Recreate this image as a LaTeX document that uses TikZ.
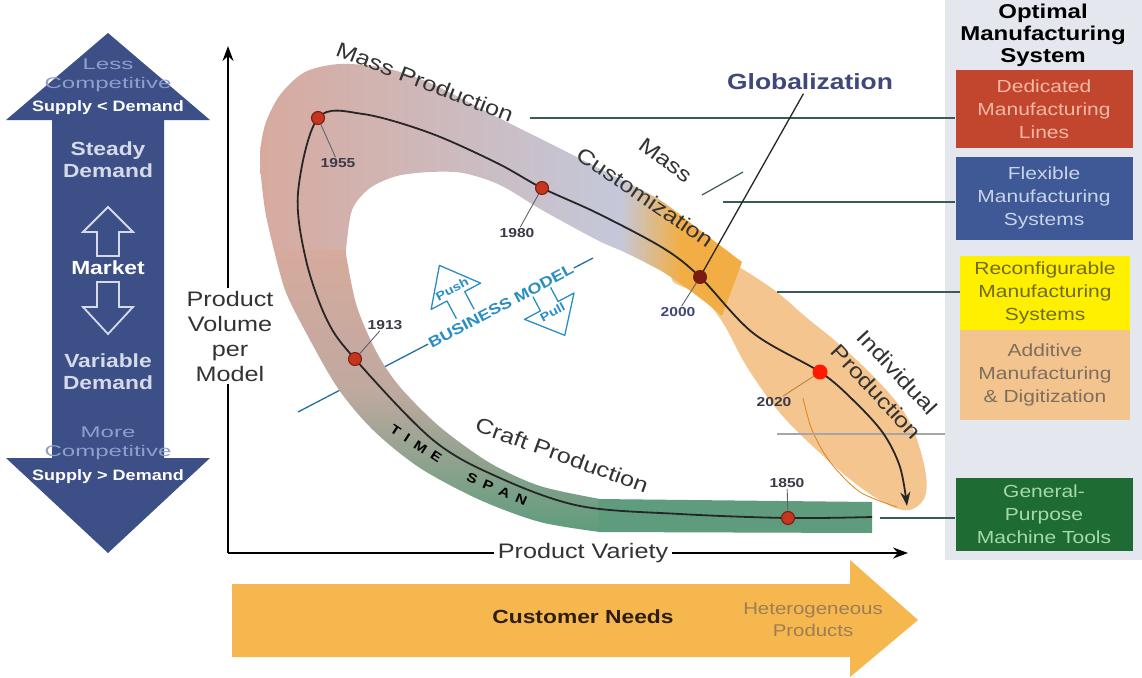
\documentclass[tikz,border=0pt]{standalone}
\usepackage{fontspec}
\setmainfont{Liberation Sans}[FakeStretch=1.2]
\newfontfamily\widefont{Liberation Sans}[FakeStretch=1.55]
\usetikzlibrary{arrows.meta}

\definecolor{arrowblue}{HTML}{3C4F87}
\definecolor{compblue}{HTML}{8E9FCB}
\definecolor{demtext}{HTML}{D6DAE8}
\definecolor{panelgray}{HTML}{E4E7EE}
\definecolor{dmlred}{HTML}{C2452D}
\definecolor{dmltext}{HTML}{F3B9A6}
\definecolor{fmsblue}{HTML}{3F5996}
\definecolor{fmstext}{HTML}{C9D3EA}
\definecolor{rmsyellow}{HTML}{FFF000}
\definecolor{rmstext}{HTML}{6E6B20}
\definecolor{amdorange}{HTML}{F4C48E}
\definecolor{amdtext}{HTML}{7D6E5E}
\definecolor{gpmgreen}{HTML}{1F6B34}
\definecolor{gpmtext}{HTML}{A6D9A9}
\definecolor{custorange}{HTML}{F6B84E}
\definecolor{custtext}{HTML}{2E1E12}
\definecolor{hettext}{HTML}{9C7E55}
\definecolor{bandpink}{HTML}{D7AA9E}
\definecolor{bandmid}{HTML}{BFA99F}
\definecolor{bandgray}{HTML}{C4C8DA}
\definecolor{bandorange}{HTML}{F2AE44}
\definecolor{leaforange}{HTML}{F4C58E}
\definecolor{bandgreen}{HTML}{5E9C7D}
\definecolor{dotred}{HTML}{C5361F}
\definecolor{dotdark}{HTML}{7A1C12}
\definecolor{yeartext}{HTML}{3A3A4A}
\definecolor{connc}{HTML}{3B5A56}
\definecolor{bmblue}{HTML}{2A8EC4}
\definecolor{globblue}{HTML}{3F4878}
\definecolor{lbltext}{HTML}{333333}

\newcommand{\lblfont}{\fontsize{21}{25}\selectfont}
\newcommand{\boxfont}{\fontsize{17.5}{23}\selectfont}
\newcommand{\yearfont}{\bfseries\fontsize{13}{15}\selectfont}

\tikzset{
  lbl/.style={font=\lblfont, text=lbltext, align=center, inner sep=1pt},
  mbox/.style={minimum width=177pt, inner sep=2pt, align=center, font=\boxfont},
  yeardot/.style={circle, fill=dotred, draw=dotdark, line width=1pt, minimum size=13pt, inner sep=0pt},
  yearlbl/.style={font=\yearfont, text=yeartext, inner sep=1pt},
  yeartick/.style={draw=yeartext!80, line width=0.9pt},
  conn/.style={draw=connc, line width=1.6pt},
  bmarrow/.style={draw=bmblue, line width=1.3pt, line join=round},
  bmlbl/.style={font=\bfseries\fontsize{12}{14}\selectfont, text=bmblue, inner sep=0pt},
  complbl/.style={font=\widefont\fontsize{15.5}{19}\selectfont, text=compblue, align=center, inner sep=0pt},
  supplbl/.style={font=\bfseries\fontsize{15}{17}\selectfont, text=white, inner sep=0pt},
  demlbl/.style={font=\bfseries\fontsize{19}{22}\selectfont, text=demtext, align=center},
  spanlbl/.style={font=\bfseries\fontsize{13}{15}\selectfont, text=black, inner sep=0pt}
}

\begin{document}
\begin{tikzpicture}[x=1pt,y=-1pt]
\useasboundingbox (0,0) rectangle (1142,677);
\fill[white] (0,0) rectangle (1142,677);

% right panel
\node[fill=panelgray, minimum width=197pt, minimum height=560pt, anchor=north west, inner sep=0pt] (panel) at (945,0) {};
\node[font=\bfseries\fontsize{20}{22}\selectfont, align=center] (title) at (1043,35) {Optimal\\Manufacturing\\System};
\node[mbox, fill=dmlred, text=dmltext, minimum height=78pt] (dml) at (1044,109) {Dedicated\\Manufacturing\\Lines};
\node[mbox, fill=fmsblue, text=fmstext, minimum height=83pt] (fms) at (1044,198) {Flexible\\Manufacturing\\Systems};
\node[mbox, fill=rmsyellow, text=rmstext, minimum width=170pt, minimum height=74pt] (rms) at (1045,293) {Reconfigurable\\Manufacturing\\Systems};
\node[mbox, fill=amdorange, text=amdtext, minimum width=170pt, minimum height=90pt] (amd) at (1045,375) {Additive\\Manufacturing\\\& Digitization};
\node[mbox, fill=gpmgreen, text=gpmtext, minimum height=73pt] (gpm) at (1044,514) {General-\\Purpose\\Machine Tools};

% market arrow
\fill[arrowblue] (108,33) -- (210,120) -- (164,120) -- (164,458) -- (210,458) -- (108,553)
  -- (6,458) -- (52,458) -- (52,120) -- (6,120) -- cycle;
\node[complbl] (less) at (108,75) {Less\\Competitive};
\node[supplbl] (supless) at (108,108) {Supply < Demand};
\node[demlbl] (steady) at (108,160) {Steady\\Demand};
\draw[demtext, line width=1.8pt] (97,256) -- (97,232) -- (83,232) -- (108,207) -- (133,232) -- (119,232) -- (119,256) -- cycle;
\node[font=\bfseries\fontsize{19}{22}\selectfont, text=white] (market) at (108,268) {Market};
\draw[demtext, line width=1.8pt] (97,282) -- (97,307) -- (83,307) -- (108,334) -- (133,307) -- (119,307) -- (119,282) -- cycle;
\node[demlbl] (variable) at (108,372) {Variable\\Demand};
\node[complbl] (more) at (108,443) {More\\Competitive};
\node[supplbl] (supmore) at (108,477) {Supply > Demand};

% customer needs arrow
\fill[custorange] (232,584) -- (850,584) -- (850,560) -- (918,620) -- (850,677) -- (850,657) -- (232,657) -- cycle;
\node[font=\bfseries\fontsize{19}{22}\selectfont, text=custtext] (needs) at (583,617) {Customer Needs};
\node[font=\fontsize{17}{22}\selectfont, text=hettext, align=center] (hetero) at (813,620) {Heterogeneous\\Products};

% axes
\coordinate (origin) at (228,553);
\coordinate (ytop) at (228,46);
\coordinate (xend) at (908,553);
\draw[line width=1.6pt, -{Stealth[length=15pt,width=11pt]}] (origin) -- (ytop);
\draw[line width=1.6pt, -{Stealth[length=15pt,width=11pt]}] (origin) -- (xend);
\node[lbl, fill=white, inner sep=3pt] (vol) at (230,336) {Product\\Volume\\per\\Model};
\node[lbl, fill=white, inner sep=4pt] (variety) at (583,553) {Product Variety};

% business model line
\coordinate (bm1) at (298,412);
\coordinate (bm2) at (593,258);
\draw[bmblue!80!black, line width=1.3pt] (bm1) -- (bm2);

% individual production leaf
\fill[leaforange] plot[smooth cycle, tension=0.6] coordinates {(682,256) (720,258) (770,287) (807,318) (840,345) (877,380) (907,417) (923,460) (926,493) (913,509) (893,507) (860,487) (820,453) (780,413) (747,367) (723,323) (700,295) (672,280)};
\draw[orange!55!brown, line width=0.8pt] plot[smooth] coordinates {(803,398) (812,430) (830,462) (860,492) (897,507)};

% mass production arm
\shade[left color=bandpink, right color=bandgray]
  plot[smooth] coordinates {(274,250) (265,210) (260,160) (265,125) (280,95) (305,72) (340,64) (385,68) (430,83) (497,117) (563,150) (620,179)}
  -- plot[smooth] coordinates {(620,250) (597,240) (542,210) (500,185) (463,173) (430,172) (397,176) (370,188) (352,210) (346,250)} -- cycle;
\shade[left color=bandgray, right color=bandorange, middle color=bandorange]
  plot[smooth] coordinates {(620,179) (660,200) (697,228) (742,262)}
  -- plot[smooth] coordinates {(722,316) (700,298) (663,272) (620,250)} -- cycle;
% craft production arc
\shade[top color=bandpink, bottom color=bandgreen, middle color=bandmid]
  plot[smooth] coordinates {(274,250) (285,290) (303,327) (337,387) (373,430) (420,468) (480,500) (540,522) (600,532)}
  -- plot[smooth] coordinates {(600,499) (540,486) (490,463) (440,427) (400,387) (377,353) (357,307) (347,260) (346,250)} -- cycle;
\fill[bandgreen] (598,499) -- (872,502) -- (872,533) -- (598,532) -- cycle;

% connectors to the systems
\coordinate (mp) at (530,118);
\draw[conn] (mp) -- (mp -| dml.west);
\coordinate (mc) at (723,202);
\draw[conn] (mc) -- (mc -| fms.west);
\coordinate (mca) at (702,195);
\coordinate (mcb) at (743,172);
\draw[conn, line width=1.2pt] (mca) -- (mcb);
\coordinate (rc) at (777,292);
\draw[conn] (rc) -- (rc -| rms.west);
\coordinate (ac) at (777,434);
\draw[conn, draw=gray!70] (ac) -- (ac -| panel.west);
\coordinate (gc) at (880,518);
\draw[conn] (gc) -- (gc -| gpm.west);

% time span
\coordinate (c1850) at (788,518);
\coordinate (c1913) at (355,359);
\coordinate (c1955) at (318,118);
\coordinate (c1980) at (542,188);
\coordinate (c2000) at (700,277);
\coordinate (c2020) at (820,372);
\draw[line width=1.8pt, draw=black!85, -{Stealth[length=14pt,width=10pt]}]
  plot[smooth, tension=0.55] coordinates {(872,517) (c1850) (680,514) (580,506) (500,478) (433,440) (c1913) (327,320) (306,260) (298,193) (c1955) (363,114) (430,133) (497,163) (c1980) (597,213) (663,248) (c2000) (753,333) (c2020) (853,400) (883,433) (900,467) (907,506)};

\node[yeardot] (y1850) at (c1850) {};
\node[yeardot] (y1913) at (c1913) {};
\node[yeardot] (y1955) at (c1955) {};
\node[yeardot] (y1980) at (c1980) {};
\node[yeardot, fill=dotdark] (y2000) at (c2000) {};
\node[circle, fill=red!80!orange, minimum size=15pt, inner sep=0pt] (y2020) at (c2020) {};

\node[yearlbl] (l1850) at (787,483) {1850};
\node[yearlbl] (l1913) at (385,325) {1913};
\node[yearlbl] (l1955) at (338,163) {1955};
\node[yearlbl] (l1980) at (517,233) {1980};
\node[yearlbl, text=globblue] (l2000) at (678,312) {2000};
\node[yearlbl] (l2020) at (774,402) {2020};
\draw[yeartick] (y1850) -- (l1850);
\draw[yeartick] (y1913) -- (l1913);
\draw[yeartick] (y1955) -- (l1955);
\draw[yeartick] (y1980) -- (l1980);
\draw[yeartick] (y2000) -- (l2000);
\draw[yeartick, draw=brown] (y2020) -- (l2020);

\node[spanlbl, rotate=-33] (time) at (416,444) {T\hspace{7pt}I\hspace{7pt}M\hspace{7pt}E};
\node[spanlbl, rotate=-23] (span) at (497,489) {S\hspace{7pt}P\hspace{7pt}A\hspace{7pt}N};

% globalization
\node[font=\bfseries\fontsize{22}{26}\selectfont, text=globblue] (glob) at (810,82) {Globalization};
\draw[line width=1.3pt, draw=black!85] (glob) -- (y2000);

% production paradigms
\node[lbl, rotate=-21] (massprod) at (425,82) {Mass Production};
\node[lbl, rotate=-36] (mass) at (666,160) {Mass};
\node[lbl, rotate=-34] (custom) at (645,197) {Customization};
\node[lbl, rotate=-20] (craft) at (562,455) {Craft Production};
\node[lbl, font=\fontsize{21}{29}\selectfont, rotate=-47] (indiv) at (887,382) {Individual\\Production};

% business model
\node[font=\bfseries\fontsize{15}{17}\selectfont, text=bmblue, fill=white, inner sep=1pt, rotate=28] (bm) at (501,306) {BUSINESS MODEL};
\begin{scope}[shift={(469,321)}, rotate=28]
  \draw[bmarrow] (-10,-8) -- (-10,-28) -- (-28,-28) -- (0,-63) -- (28,-28) -- (10,-28) -- (10,-8);
  \node[bmlbl, rotate=28] (push) at (0,-36) {Push};
\end{scope}
\begin{scope}[shift={(538,285)}, rotate=28]
  \draw[bmarrow] (-10,8) -- (-10,24) -- (-28,24) -- (0,57) -- (28,24) -- (10,24) -- (10,8);
  \node[bmlbl, rotate=28] (pull) at (0,31) {Pull};
\end{scope}
\end{tikzpicture}
\end{document}
